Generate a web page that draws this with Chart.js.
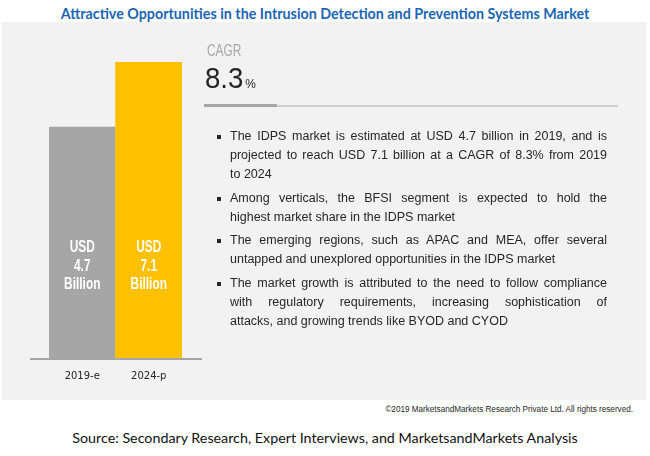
<!DOCTYPE html>
<html>
<head>
<meta charset="utf-8">
<script src="https://cdn.jsdelivr.net/npm/chart.js@4"></script>
<style>
  html, body { margin: 0; padding: 0; background: #fff; }
  #page { position: relative; width: 650px; height: 456px; overflow: hidden; font-family: "Liberation Sans", Arial, sans-serif; color: #262626; }
  #panel { position: absolute; left: 2px; top: 22px; width: 644px; height: 378px; background: #f2f2f2; }
  #title { position: absolute; left: 0; width: 650px; top: 5px; text-align: center; font-family: Lato, "Open Sans", sans-serif; font-weight: bold; color: #1a66b5; font-size: 14px; white-space: nowrap; }
  #chartBox { position: absolute; left: 0; top: 0; width: 220px; height: 400px; }
  #cagrLabel { position: absolute; left: 207px; top: 40px; font-size: 16.5px; color: #a6a6a6; transform: scaleX(0.72); transform-origin: left top; line-height: 20px; }
  #cagrValue { position: absolute; left: 205px; top: 60px; font-size: 30px; color: #262626; transform: scaleX(0.92); transform-origin: left top; line-height: 36px; white-space: nowrap; }
  #cagrValue small { font-size: 13px; margin-left: 2px; }
  #rulerDark { position: absolute; left: 204px; top: 104px; width: 73px; height: 3px; background: #a6a6a6; }
  #rulerLight { position: absolute; left: 277px; top: 105px; width: 341px; height: 1.5px; background: #cfcfcf; }
  #bullets { position: absolute; left: 230px; top: 127px; width: 377px; font-size: 12.5px; line-height: 19px; }
  .para { position: relative; margin-bottom: 4.5px; }
  .para::before { content: ""; position: absolute; left: -13px; top: 8px; width: 4px; height: 4px; background: #262626; }
  .ln { white-space: nowrap; }
  .ln.j { text-align: justify; text-align-last: justify; white-space: normal; }
  #copy { position: absolute; right: 17px; top: 405px; font-size: 8px; color: #262626; white-space: nowrap; }
  #source { position: absolute; left: 0; width: 650px; top: 429px; text-align: center; font-family: Lato, "Open Sans", sans-serif; font-size: 14px; color: #111; white-space: nowrap; }
</style>
</head>
<body>
<div id="page">
  <div id="panel"></div>
  <div id="title"><span>Attractive Opportunities in the Intrusion Detection and Prevention Systems Market</span></div>
  <div id="chartBox"><canvas id="chart"></canvas></div>
  <div id="cagrLabel">CAGR</div>
  <div id="cagrValue"></div>
  <div id="rulerDark"></div>
  <div id="rulerLight"></div>
  <div id="bullets"></div>
  <div id="copy"><span>©2019 MarketsandMarkets Research Private Ltd. All rights reserved.</span></div>
  <div id="source"><span>Source: Secondary Research, Expert Interviews, and MarketsandMarkets Analysis</span></div>
</div>
<script>
// chart data
const years = ['2019-e', '2024-p'];
const marketSize = [4.7, 7.1];          // USD billion
const barColors = ['#a6a6a6', '#ffc000'];
const cagr = 8.3;

// the original bars don't start from zero, axis floor
const axisFloor = -3.86;

// bullet text, one entry per printed line; true = justified line
const bulletLines = [
  [['The IDPS market is estimated at USD 4.7 billion in 2019, and is', true],
   ['projected to reach USD 7.1 billion at a CAGR of 8.3% from 2019', true],
   ['to 2024', false]],
  [['Among verticals, the BFSI segment is expected to hold the', true],
   ['highest market share in the IDPS market', false]],
  [['The emerging regions, such as APAC and MEA, offer several', true],
   ['untapped and unexplored opportunities in the IDPS market', false]],
  [['The market growth is attributed to the need to follow compliance', true],
   ['with regulatory requirements, increasing sophistication of', true],
   ['attacks, and growing trends like BYOD and CYOD', false]]
];

document.getElementById('cagrValue').innerHTML = cagr.toFixed(1) + '<small>%</small>';

document.getElementById('bullets').innerHTML = bulletLines.map(p =>
  '<div class="para">' + p.map(([t, j]) => `<div class="ln${j ? ' j' : ''}">${t}</div>`).join('') + '</div>'
).join('');

// squeeze/stretch a single-line text to a target width
function fitWidth(id, w) {
  const span = document.querySelector('#' + id + ' span');
  const el = document.getElementById(id);
  const cur = span.getBoundingClientRect().width;
  const fs = parseFloat(getComputedStyle(el).fontSize);
  el.style.fontSize = (fs * w / cur) + 'px';
}
fitWidth('title', 529);
fitWidth('source', 506);
fitWidth('copy', 248);

// white "USD / value / Billion" inside each bar, plus the baseline
const barText = {
  id: 'barText',
  afterDatasetsDraw(chart) {
    const { ctx, chartArea } = chart;
    const bottom = chartArea.bottom;
    ctx.save();
    ctx.strokeStyle = '#a6a6a6';
    ctx.lineWidth = 2;
    ctx.beginPath();
    ctx.moveTo(chartArea.left - 19, bottom);
    ctx.lineTo(chartArea.right + 20, bottom);
    ctx.stroke();

    ctx.fillStyle = '#ffffff';
    ctx.textAlign = 'center';
    ctx.textBaseline = 'middle';
    ctx.font = 'bold 16.5px "Liberation Sans", Arial, sans-serif';
    chart.getDatasetMeta(0).data.forEach((bar, i) => {
      const lines = ['USD', marketSize[i].toFixed(1), 'Billion'];
      const offs = [112, 93, 75];
      lines.forEach((t, k) => {
        ctx.save();
        ctx.translate(bar.x, bottom - offs[k]);
        ctx.scale(0.72, 1);
        ctx.fillText(t, 0, 0);
        ctx.restore();
      });
    });
    ctx.restore();
  }
};

new Chart(document.getElementById('chart'), {
  type: 'bar',
  data: {
    labels: years,
    datasets: [{
      data: marketSize,
      base: axisFloor,
      backgroundColor: barColors,
      borderWidth: 0,
      barPercentage: 1,
      categoryPercentage: 1
    }]
  },
  options: {
    responsive: true,
    maintainAspectRatio: false,
    animation: false,
    layout: { padding: { left: 49, right: 38, top: 62, bottom: 0 } },
    plugins: { legend: { display: false }, tooltip: { enabled: false } },
    scales: {
      x: {
        grid: { display: false, drawTicks: false },
        border: { display: false },
        ticks: { color: '#262626', padding: 11, font: { family: '"DejaVu Sans"', size: 10 } },
        afterFit(scale) { scale.height = 41; }
      },
      y: { display: false, min: axisFloor, max: 7.1 }
    }
  },
  plugins: [barText]
});
</script>
</body>
</html>
